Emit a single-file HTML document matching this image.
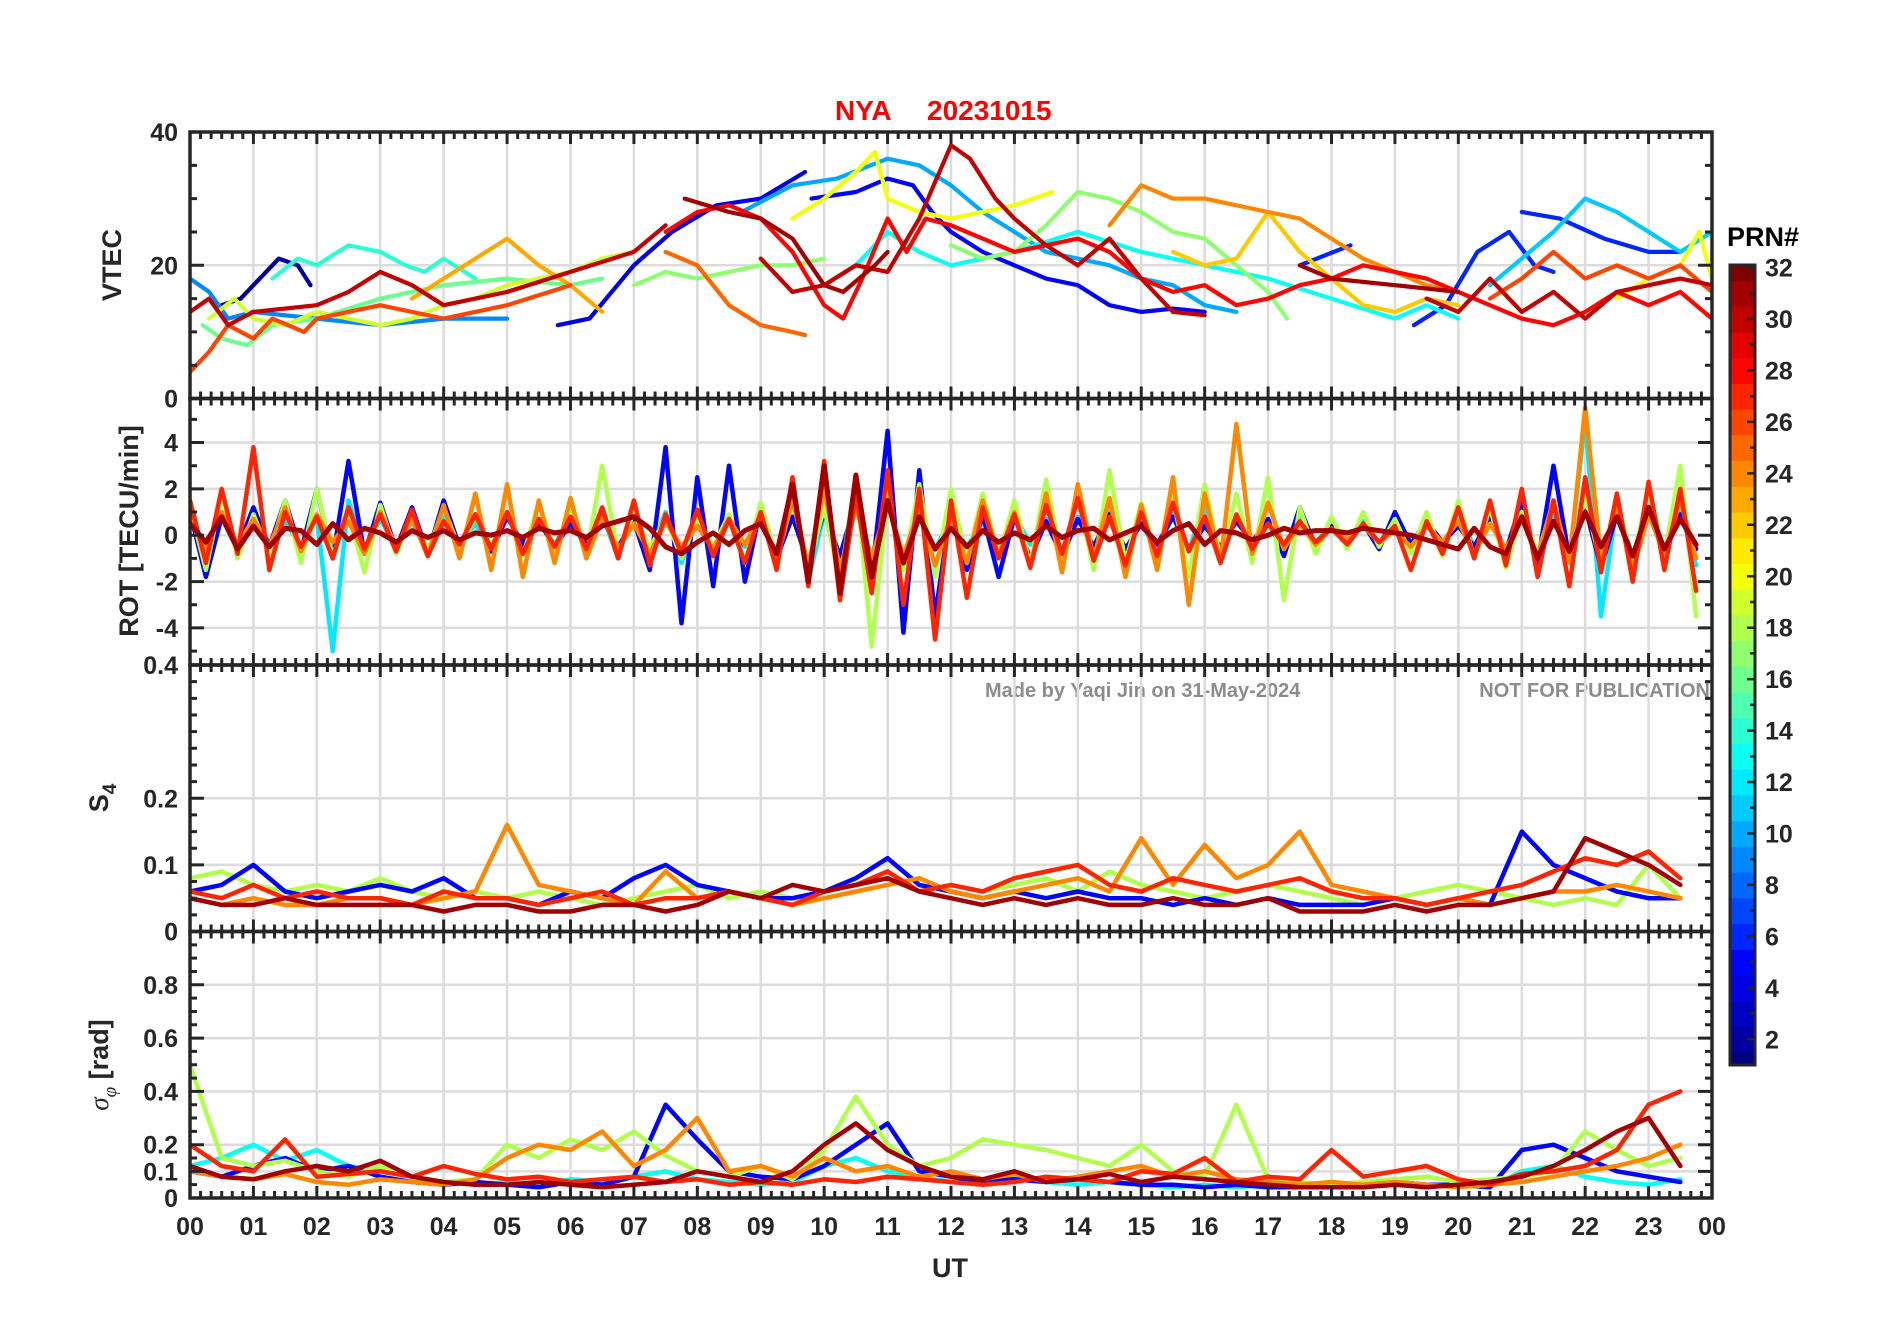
<!DOCTYPE html>
<html><head><meta charset="utf-8">
<style>
html,body{margin:0;padding:0;background:#fff;}
svg{display:block;font-family:"Liberation Sans",Arial,sans-serif;font-weight:bold;}
</style></head>
<body>
<svg id="chart" width="1902" height="1330" viewBox="0 0 1902 1330" xmlns="http://www.w3.org/2000/svg">
<rect width="1902" height="1330" fill="#fff"/>
<text x="835" y="120" font-size="28" fill="#ff0000" text-anchor="start">NYA</text>
<text x="927" y="120" font-size="28" fill="#ff0000">20231015</text>
<text x="121" y="265" font-size="27" fill="#262626" text-anchor="middle" transform="rotate(-90 121 265)">VTEC</text>
<text x="138" y="531" font-size="27" fill="#262626" text-anchor="middle" transform="rotate(-90 138 531)">ROT [TECU/min]</text>
<text x="108" y="798" font-size="27" fill="#262626" text-anchor="middle" transform="rotate(-90 108 798)">S<tspan font-size="19" dy="8">4</tspan></text>
<text x="108" y="1065" font-size="27" fill="#262626" text-anchor="middle" transform="rotate(-90 108 1065)"><tspan font-style="italic" font-weight="normal" font-family="Liberation Serif,serif">σ</tspan><tspan font-size="19" dy="8" font-style="italic" font-weight="normal" font-family="Liberation Serif,serif">φ</tspan><tspan dy="-8"> [rad]</tspan></text>
<text x="950" y="1277" font-size="27" fill="#262626" text-anchor="middle">UT</text>
<text x="985" y="697" font-size="20" fill="#8c8c8c">Made by Yaqi Jin on 31-May-2024</text>
<text x="1710" y="697" font-size="20" fill="#8c8c8c" text-anchor="end">NOT FOR PUBLICATION</text>
<text x="1727" y="246" font-size="27" fill="#000">PRN#</text>
<g id="layer"></g>
</svg>
<script>
// ---------- DATA ----------
const hourLabels = ["00","01","02","03","04","05","06","07","08","09","10","11","12","13","14","15","16","17","18","19","20","21","22","23","00"];
const prnTicks = [2,4,6,8,10,12,14,16,18,20,22,24,26,28,30,32];
const vtecTicks = [0,20,40];
const rotTicks = [-4,-2,0,2,4];
const s4Ticks = [0,0.1,0.2,0.4];
const sigTicks = [0,0.1,0.2,0.4,0.6,0.8];

// VTEC series: [prn, [[hour,value],...]]
const vtecPrn = [2,4,5,6,6,6,9,10,11,13,14,16,17,17,19,20,20,22,23,24,25,26,26,28,30,30,30,31,31];
const vtecSeries = [
[[0.5,14],[0.8,15],[1.0,17],[1.3,20],[1.4,21],[1.7,20],[1.9,17]],
[[5.8,11],[6.3,12],[7,20],[7.6,25],[8.3,29],[9,30],[9.7,34]],
[[9.8,30],[10.5,31],[11,33],[11.4,32],[11.7,28],[12,25],[12.5,22],[13,20],[13.5,18],[14,17],[14.5,14],[15,13],[15.5,13.5],[16,13]],
[[17.5,20],[18.3,23]],
[[19.3,11],[19.8,14],[20.3,22],[20.8,25],[21.2,20],[21.5,19]],
[[21,28],[21.6,27],[22.3,24],[23,22],[23.5,22]],
[[0,18],[0.3,16],[0.6,12],[1,13],[2,12],[3,11],[4,12],[5,12]],
[[8.7,28],[9.5,32],[10.2,33],[11,36],[11.5,35],[12,32],[12.5,28],[13,25],[13.5,22],[14.5,20],[15,18],[15.5,17],[16,14],[16.5,13]],
[[20.5,17],[21.5,25],[22,30],[22.5,28],[23,25],[23.5,22],[24,25]],
[[10,17],[10.5,20],[11,25],[11.5,22],[12,20],[13,22],[14,25],[15,22],[16,20],[17,18],[18,15],[19,12],[19.5,14],[20,12]],
[[1.3,18],[1.7,21],[2,20],[2.5,23],[3,22],[3.4,20],[3.7,19],[4,21],[4.5,18]],
[[0.2,11],[0.5,9],[0.9,8],[1.3,11],[2,12],[3,15],[4,17],[5,18],[6,17],[6.5,18]],
[[7,17],[7.5,19],[8,18],[8.5,19],[9,20],[9.5,20],[10,21]],
[[12,23],[12.5,21],[13,22],[13.5,26],[14,31],[14.5,30],[15,28],[15.5,25],[16,24],[16.5,20],[17,16],[17.3,12]],
[[0.3,12],[0.7,15],[1,12],[1.5,11],[2,13],[2.5,12],[3,11],[3.5,12],[4,14],[4.5,15],[5,17],[5.5,18],[6,19],[6.5,21],[7,22]],
[[9.5,27],[10,30],[10.5,34],[10.8,37],[11,30],[11.5,28],[12,27],[12.5,28],[13,29],[13.6,31]],
[[22.5,15],[23,18],[23.5,20],[23.8,25],[24,18]],
[[15.5,22],[16,20],[16.5,21],[17,28],[17.5,22],[18,18],[18.5,14],[19,13],[19.5,15],[20,14]],
[[3.5,15],[4,18],[4.5,21],[5,24],[5.5,20],[6,17],[6.5,13]],
[[14.5,26],[15,32],[15.5,30],[16,30],[16.5,29],[17,28],[17.5,27],[18,24],[18.5,21],[19,19],[19.5,17],[20,16]],
[[7.5,22],[8,20],[8.5,14],[9,11],[9.5,10],[9.7,9.5]],
[[0,4],[0.3,7],[0.6,11],[1,9],[1.3,12],[1.8,10],[2,12],[3,14],[4,12],[5,14],[6,17]],
[[20.5,15],[21,18],[21.5,22],[22,18],[22.5,20],[23,18],[23.5,20],[24,16]],
[[7.5,25],[8,28],[8.5,29],[9,27],[9.5,22],[10,14],[10.3,12],[10.6,18],[11,27],[11.3,22],[11.6,27],[12,26],[12.5,24],[13,22],[13.5,23],[14,24],[14.5,22],[15,18],[15.5,16],[16,17],[16.5,14],[17,15],[17.5,17],[18,18],[18.5,20],[19,19],[19.5,18],[20,16],[20.5,14],[21,12],[21.5,11],[22,13],[22.5,16],[23,14],[23.5,16],[24,12]],
[[0,13],[0.3,15],[0.6,11],[1,13],[2,14],[2.5,16],[3,19],[3.5,17],[4,14],[5,16],[6,19],[7,22],[7.5,26]],
[[9,21],[9.5,16],[10,17],[10.5,20],[11,19],[11.5,27],[12,38],[12.3,36],[12.7,30],[13,27],[13.5,23],[14,20],[14.5,24],[15,18],[15.5,13],[16,12.5]],
[[19.5,15],[20,13],[20.5,18],[21,13],[21.5,16],[22,12],[22.5,16],[23,17],[23.5,18],[24,17]],
[[7.8,30],[8.5,28],[9,27],[9.5,24],[10,17],[10.3,16],[10.8,20],[11,22]],
[[17.5,20],[18,18],[19,17],[20,16]]
];

// ROT series, 15-minute step from 00:00
const rotPrn = [12,5,18,24,27,31];
const rotCyan = [0.8,-0.5,0.9,-0.7,1.0,-0.4,0.6,-0.5,0.8,-5.0,1.5,-0.6,0.7,-0.5,0.6,-0.8,0.9,-0.4,0.5,-0.6,0.8,-0.5,0.7,-0.4,0.6,-0.5,0.9,-1.0,1.2,-0.8,1.0,-1.2,0.8,-0.7,0.6,-0.5,0.9,-1.2,1.8,-2.0,1.0,-1.5,1.2,-0.9,1.4,-1.0,0.8,-0.6,0.7,-0.5,0.6,-0.8,0.9,-0.4,0.7,-0.6,0.8,-0.5,1.0,-0.7,0.6,-0.8,0.9,-0.6,1.2,-0.9,0.8,-0.4,0.5,-0.6,0.7,-0.3,0.4,-0.5,0.6,-0.4,0.8,-0.3,0.5,-0.6,0.9,-0.5,0.7,-0.8,1.2,-0.9,1.0,-1.2,5.0,-3.5,1.4,-1.0,0.9,-0.7,1.1,-1.3];
const rotBlue = [1.0,-1.8,0.8,-0.6,1.2,-0.5,1.5,-0.7,2.0,-1.0,3.2,-0.8,1.4,-0.6,1.2,-0.8,1.5,-0.5,0.9,-0.7,0.8,-0.4,0.6,-0.5,0.5,-0.3,0.7,-0.5,0.6,-1.5,3.8,-3.8,2.5,-2.2,3.0,-2.0,1.2,-1.0,0.8,-1.2,1.0,-0.9,1.5,-1.8,4.5,-4.2,2.8,-3.5,1.2,-1.5,0.9,-1.8,0.8,-1.0,0.6,-0.9,0.7,-0.5,0.9,-0.6,0.5,-0.4,0.8,-0.6,0.4,-0.5,0.6,-0.3,0.7,-0.9,1.2,-0.5,0.4,-0.3,0.5,-0.6,1.0,-0.4,0.6,-0.3,0.4,-0.5,0.8,-0.7,1.5,-1.2,3.0,-1.0,1.2,-1.4,0.9,-1.0,1.1,-0.8,0.9,-0.6];
const rotYG = [1.2,-1.5,1.8,-1.0,0.9,-0.8,1.5,-1.2,2.0,-0.9,1.0,-1.6,1.3,-0.8,0.9,-0.7,1.2,-0.6,0.8,-0.5,1.0,-0.9,1.4,-0.7,1.1,-0.9,3.0,-0.8,1.0,-0.6,0.8,-1.0,0.7,-0.5,0.9,-1.2,1.4,-1.0,1.8,-1.4,1.2,-2.0,2.5,-4.8,1.6,-1.5,2.2,-1.8,2.0,-1.2,1.8,-1.0,1.5,-1.3,2.4,-1.1,1.8,-1.5,2.8,-1.2,1.4,-1.0,1.6,-1.8,2.2,-1.0,1.8,-1.2,2.5,-2.8,1.2,-0.8,0.8,-0.6,1.0,-0.5,0.7,-0.8,1.0,-0.9,1.5,-1.0,1.2,-1.4,1.0,-0.8,1.4,-1.1,1.6,-1.3,1.5,-1.2,2.0,-0.9,3.0,-3.5];
const rotOrange = [0.8,-0.6,1.0,-0.4,0.7,-0.5,1.2,-0.7,0.9,-0.3,0.6,-0.8,1.0,-0.5,0.7,-0.9,1.3,-1.0,1.8,-1.5,2.2,-1.8,1.5,-1.2,1.6,-1.0,0.8,-0.6,0.5,-0.8,0.6,-0.5,0.4,-0.6,0.7,-0.4,0.9,-1.1,1.5,-1.3,2.0,-1.5,1.2,-1.0,1.4,-0.9,1.1,-1.3,0.8,-1.2,1.5,-0.9,1.0,-1.4,1.8,-1.6,2.2,-1.0,1.6,-1.8,1.3,-1.5,2.5,-3.0,1.8,-1.2,4.8,-0.8,1.4,-0.6,0.5,-0.4,0.3,-0.2,0.4,-0.3,0.2,-0.5,0.4,-0.3,0.6,-0.8,0.5,-0.6,0.7,-0.9,1.5,-1.2,5.5,-1.0,1.2,-1.5,0.9,-0.8,1.5,-1.0];
const rotRed = [1.5,-1.2,2.0,-0.8,3.8,-1.5,1.0,-0.5,0.8,-1.0,1.2,-0.6,0.9,-0.7,1.1,-0.9,0.6,-0.4,0.9,-0.6,1.0,-0.8,0.7,-0.5,0.8,-0.6,1.2,-1.0,1.5,-1.3,0.9,-0.8,1.1,-0.9,0.7,-1.2,1.0,-1.5,2.5,-2.2,3.2,-2.8,1.8,-2.5,2.8,-3.0,2.0,-4.5,1.5,-2.7,1.2,-1.0,0.9,-1.4,1.3,-0.8,1.6,-1.1,0.8,-1.3,1.0,-0.9,1.4,-0.7,0.8,-1.2,0.9,-0.6,0.5,-0.4,0.6,-0.3,0.3,-0.4,0.5,-0.3,0.4,-1.5,0.6,-0.8,1.2,-1.0,1.5,-1.3,2.0,-1.8,1.5,-2.2,2.5,-1.6,1.8,-2.0,2.3,-1.5,2.0,-2.4];
const rotDarkRed = [0.5,-0.3,0.8,-0.6,0.4,-0.5,0.3,0.2,-0.4,0.5,-0.2,0.3,0.1,-0.3,0.2,-0.1,0.2,-0.2,0.1,0.0,0.2,-0.1,0.3,0.1,0.2,-0.1,0.4,0.6,0.8,0.3,-0.5,-0.8,-0.3,0.1,-0.4,0.2,0.5,-0.8,2.2,-2.0,3.0,-2.5,2.6,-1.8,1.5,-1.2,0.8,-0.6,0.3,-0.5,0.2,-0.3,0.1,-0.2,0.4,-0.1,0.2,0.3,-0.2,0.1,0.4,-0.3,0.2,0.5,-0.4,0.2,0.1,-0.2,0.0,0.3,0.1,0.2,0.2,0.1,0.3,0.2,0.1,0.0,-0.2,-0.4,-0.6,0.3,-0.5,-0.8,0.8,-1.0,0.6,-0.7,1.0,-0.5,0.8,-0.9,1.2,-0.6,0.7,-0.4];

// S4 series, 30-minute step
const s4Prn = [18,5,24,27,31];
const s4YG = [.08,.09,.07,.06,.07,.06,.08,.06,.05,.06,.05,.06,.05,.04,.05,.06,.07,.05,.06,.05,.06,.07,.08,.06,.07,.06,.07,.08,.06,.09,.07,.06,.05,.06,.07,.06,.05,.04,.05,.06,.07,.06,.05,.04,.05,.04,.10,.05];
const s4Blue = [.06,.07,.10,.06,.05,.06,.07,.06,.08,.05,.05,.04,.06,.05,.08,.10,.07,.06,.05,.05,.06,.08,.11,.07,.06,.05,.06,.05,.06,.05,.05,.04,.05,.04,.05,.04,.04,.04,.05,.04,.05,.04,.15,.10,.08,.06,.05,.05];
const s4Orange = [.05,.04,.05,.04,.04,.05,.05,.04,.05,.06,.16,.07,.06,.05,.04,.09,.05,.06,.05,.04,.05,.06,.07,.08,.06,.05,.06,.07,.08,.06,.14,.07,.13,.08,.10,.15,.07,.06,.05,.04,.05,.04,.05,.06,.06,.07,.06,.05];
const s4Red = [.06,.05,.07,.05,.06,.05,.05,.04,.06,.05,.05,.04,.05,.06,.04,.05,.05,.06,.05,.04,.06,.07,.09,.06,.07,.06,.08,.09,.10,.07,.06,.08,.07,.06,.07,.08,.06,.05,.05,.04,.05,.06,.07,.09,.11,.10,.12,.08];
const s4DarkRed = [.05,.04,.04,.05,.04,.04,.04,.04,.03,.04,.04,.03,.03,.04,.04,.03,.04,.06,.05,.07,.06,.07,.08,.06,.05,.04,.05,.04,.05,.04,.04,.05,.04,.04,.05,.03,.03,.03,.04,.03,.04,.04,.05,.06,.14,.12,.10,.07];

// Sigma-phi series, 30-minute step
const sigPrn = [13,5,18,24,27,31];
const sigCyan = [.12,.15,.20,.14,.18,.12,.10,.08,.06,.05,.06,.05,.07,.06,.08,.10,.07,.06,.05,.06,.12,.15,.10,.08,.06,.07,.08,.06,.05,.06,.05,.04,.05,.04,.05,.04,.04,.04,.05,.04,.05,.04,.10,.12,.08,.06,.05,.07];
const sigBlue = [.10,.08,.12,.15,.10,.12,.08,.06,.05,.06,.05,.04,.06,.05,.08,.35,.22,.10,.08,.07,.12,.20,.28,.10,.08,.06,.07,.06,.07,.06,.05,.05,.04,.05,.04,.04,.05,.04,.06,.05,.05,.04,.18,.20,.15,.10,.08,.06];
const sigYG = [.50,.15,.12,.14,.10,.08,.12,.08,.06,.07,.20,.15,.22,.18,.25,.16,.10,.08,.12,.07,.18,.38,.20,.12,.15,.22,.20,.18,.15,.12,.20,.10,.08,.35,.07,.06,.05,.06,.07,.08,.06,.07,.08,.10,.25,.18,.12,.15];
const sigOrange = [.10,.08,.07,.09,.06,.05,.07,.06,.05,.07,.15,.20,.18,.25,.12,.18,.30,.10,.12,.08,.15,.10,.12,.08,.10,.07,.09,.06,.08,.10,.12,.08,.10,.07,.06,.05,.06,.05,.06,.05,.04,.05,.06,.08,.10,.12,.15,.20];
const sigRed = [.20,.12,.10,.22,.08,.09,.10,.08,.12,.09,.07,.08,.06,.07,.08,.06,.07,.05,.06,.05,.07,.06,.08,.07,.06,.05,.06,.08,.07,.06,.10,.09,.15,.06,.08,.07,.18,.08,.10,.12,.07,.05,.09,.10,.12,.18,.35,.40];
const sigDarkRed = [.12,.08,.07,.10,.12,.10,.14,.08,.06,.05,.05,.06,.05,.04,.05,.06,.10,.08,.06,.10,.20,.28,.18,.12,.08,.07,.10,.06,.07,.09,.06,.08,.07,.06,.05,.04,.04,.04,.05,.04,.05,.06,.08,.12,.18,.25,.30,.12];

// ---------- DRAWING ----------
const NS = "http://www.w3.org/2000/svg";
const layer = document.getElementById('layer');
const X0 = 190, X1 = 1712;
const panelTop = [132, 398.5, 665, 931.5];
const PH = 266.5;
const FRAME = "#262626";
function xs(h){ return X0 + h/24*(X1-X0); }
function mk(tag, attrs, parent){
  const e = document.createElementNS(NS, tag);
  for (const k in attrs) e.setAttribute(k, attrs[k]);
  (parent||layer).appendChild(e);
  return e;
}
function jet(t){
  const c = v => Math.max(0, Math.min(1, v));
  const r = c(1.5-Math.abs(4*t-3)), g = c(1.5-Math.abs(4*t-2)), b = c(1.5-Math.abs(4*t-1));
  return `rgb(${Math.round(r*255)},${Math.round(g*255)},${Math.round(b*255)})`;
}
function prnColor(p){ return jet((p-1)/31); }

const panels = [
  {name:'vtec', min:0, max:40, ticks:vtecTicks, labels:['0','20','40'], grid:[20], minor:5},
  {name:'rot', min:-5.6, max:5.9, ticks:rotTicks, labels:['-4','-2','0','2','4'], grid:[-4,-2,0,2,4], minor:1},
  {name:'s4', min:0, max:0.4, ticks:s4Ticks, labels:['0','0.1','0.2','0.4'], grid:[0.1,0.2], minor:0.025},
  {name:'sigma', min:0, max:1, ticks:sigTicks, labels:['0','0.1','0.2','0.4','0.6','0.8'], grid:[0.1,0.2,0.4,0.6,0.8], minor:0.05}
];
panels.forEach((p,i)=>{
  p.top = panelTop[i]; p.bot = panelTop[i]+PH;
  p.y = v => p.bot - (v-p.min)/(p.max-p.min)*PH;
  const g = mk('g', {});
  
  
  p.g = g;
  const cp = mk('clipPath', {id:'clip-'+p.name}, g);
  mk('rect', {x:X0, y:p.top, width:X1-X0, height:PH}, cp);
  for (let h=1; h<24; h++){
    const l = mk('line', {x1:xs(h), x2:xs(h), y1:p.top, y2:p.bot, stroke:'#dcdcdc', 'stroke-width':2.5}, g);
    
    
  }
  p.grid.forEach(v=>{
    const l = mk('line', {x1:X0, x2:X1, y1:p.y(v), y2:p.y(v), stroke:'#dcdcdc', 'stroke-width':2.5}, g);
    
    
  });
  p.data = mk('g', {'clip-path':'url(#clip-'+p.name+')'}, g);
  
  
});

function drawLine(p, pts, prn, w){
  const d = pts.map((q,k)=>(k?'L':'M')+xs(q[0]).toFixed(1)+','+p.y(q[1]).toFixed(1)).join('');
  const path = mk('path', {d:d, fill:'none', stroke:prnColor(prn), 'stroke-width':w||3.5, 'stroke-linejoin':'round', 'stroke-linecap':'round'}, p.data);
  
  
}
function stepSeries(vals, step){ return vals.map((v,k)=>[k*step, v]); }

vtecSeries.forEach((s,k)=>drawLine(panels[0], s, vtecPrn[k], 4.2));
[rotCyan, rotBlue, rotYG, rotOrange, rotRed, rotDarkRed].forEach((s,k)=>drawLine(panels[1], stepSeries(s,0.25), rotPrn[k], k===5?5:4.5));
[s4YG, s4Blue, s4Orange, s4Red, s4DarkRed].forEach((s,k)=>drawLine(panels[2], stepSeries(s,0.5), s4Prn[k], 4.5));
[sigCyan, sigBlue, sigYG, sigOrange, sigRed, sigDarkRed].forEach((s,k)=>drawLine(panels[3], stepSeries(s,0.5), sigPrn[k], 4.5));

panels.forEach((p,i)=>{
  const g = p.g;
  let d = '';
  for (let m=0; m<=24*6; m++){
    const x = xs(m/6), L = (m%6===0)?12:7;
    d += `M${x},${p.top}v${L}M${x},${p.bot}v${-L}`;
  }
  const start = Math.ceil(p.min/p.minor);
  for (let k=start; k*p.minor<=p.max+1e-9; k++){
    const v = k*p.minor, y = p.y(v);
    const major = p.ticks.some(t=>Math.abs(t-v)<1e-9) || p.grid.some(t=>Math.abs(t-v)<1e-9);
    const L = major?14:7;
    d += `M${X0},${y}h${L}M${X1},${y}h${-L}`;
  }
  const t = mk('path', {d:d, stroke:FRAME, 'stroke-width':3, fill:'none'}, g);
  
  
  const fr = mk('rect', {x:X0, y:p.top, width:X1-X0, height:PH, fill:'none', stroke:FRAME, 'stroke-width':3.5}, g);
  
  
  p.ticks.forEach((v,k)=>{
    const tx = mk('text', {x:178, y:p.y(v)+9, 'font-size':25, fill:FRAME, 'text-anchor':'end'}, g);
    tx.textContent = p.labels[k];
    
    
  });
});
hourLabels.forEach((s,h)=>{
  const tx = mk('text', {x:xs(h), y:1235, 'font-size':25, fill:FRAME, 'text-anchor':'middle'});
  tx.textContent = s;
  
  
});

const CB = {x:1730, w:25, top:265, bot:1065, min:1, max:32.1};
const cbY = v => CB.bot - (v-CB.min)/(CB.max-CB.min)*(CB.bot-CB.top);
const cbg = mk('g', {});


for (let p=1; p<=32; p++){
  const y1 = cbY(Math.min(p+0.5, CB.max)), y0 = cbY(Math.max(p-0.5, CB.min));
  const r = mk('rect', {x:CB.x, y:y1, width:CB.w, height:y0-y1+0.6, fill:prnColor(p)}, cbg);
  
  
}
let cd = '';
for (let p=1; p<=32; p++){ const y=cbY(p); cd += `M${CB.x+CB.w},${y}h${p%2===0?-8:-5}`; }
const cbt = mk('path', {d:cd, stroke:FRAME, 'stroke-width':2.5}, cbg);


const cbf = mk('rect', {x:CB.x, y:CB.top, width:CB.w, height:CB.bot-CB.top, fill:'none', stroke:FRAME, 'stroke-width':3}, cbg);


prnTicks.forEach(v=>{
  const tx = mk('text', {x:1765, y:cbY(v)+9, 'font-size':25, fill:FRAME}, cbg);
  tx.textContent = v;
  
  
});
</script>
</body></html>
